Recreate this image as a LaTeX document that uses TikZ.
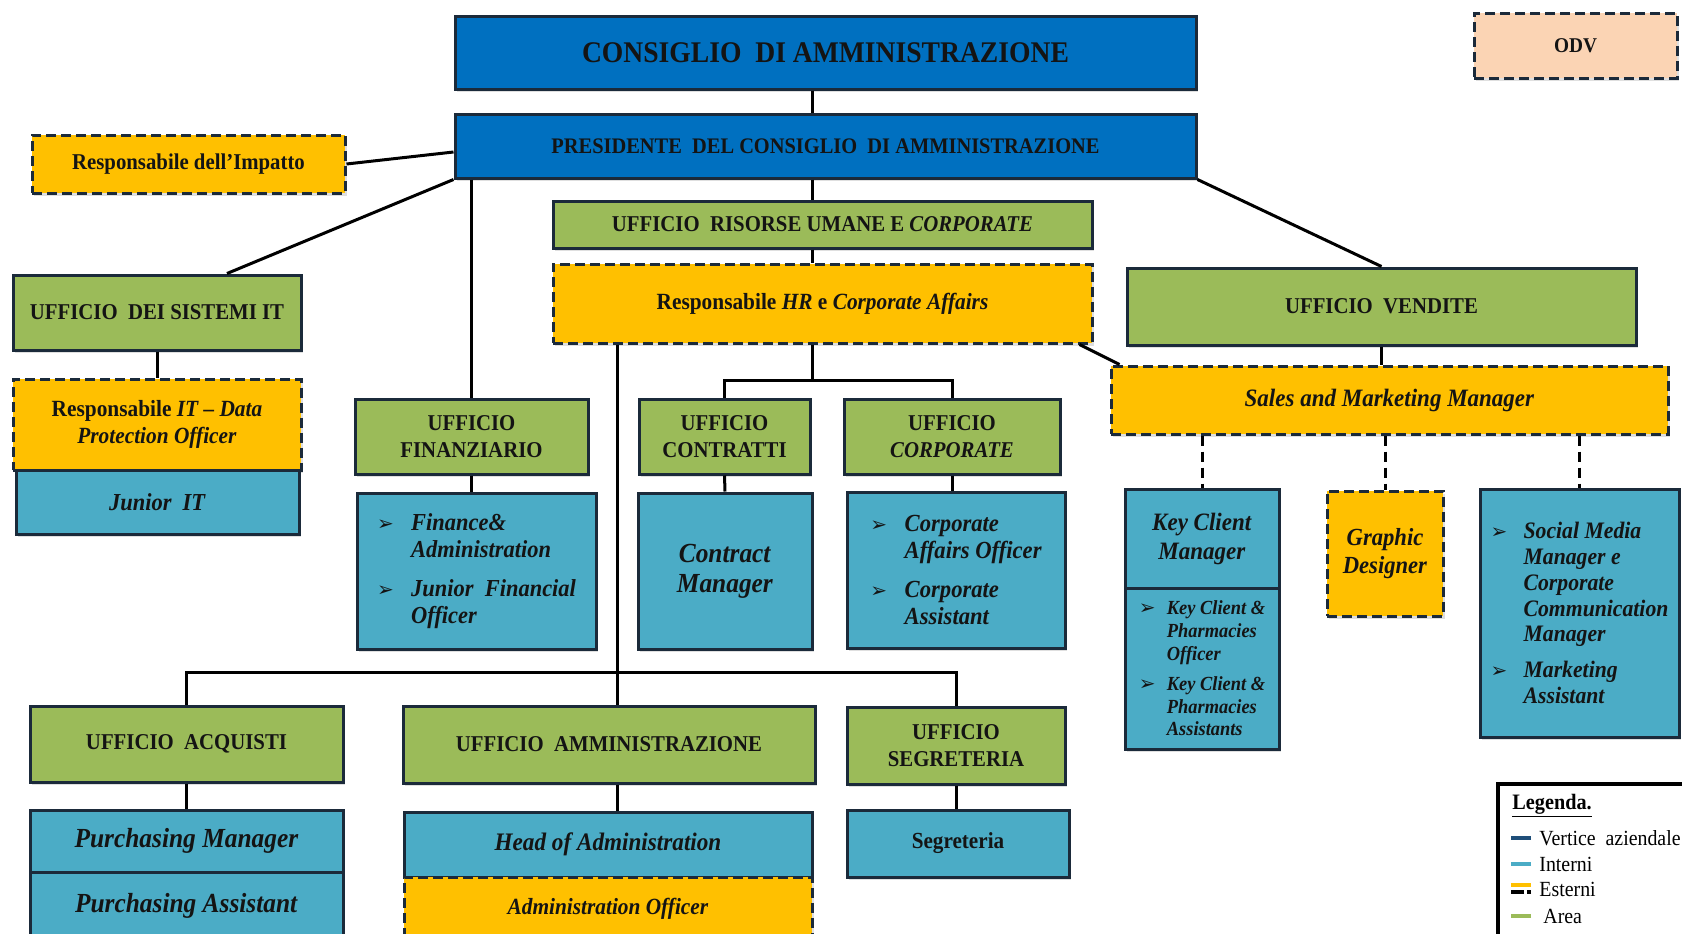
\documentclass[tikz,border=0pt]{standalone}
\usepackage{fontspec}
\setmainfont{Liberation Serif}[FakeStretch=0.92]
\newfontfamily\arrowfont{DejaVu Sans}
\usetikzlibrary{shadows}

\definecolor{topblue}{HTML}{0070C0}
\definecolor{areagreen}{HTML}{9BBB59}
\definecolor{intblue}{HTML}{4BACC6}
\definecolor{extgold}{HTML}{FFC000}
\definecolor{odvpeach}{HTML}{FBD4B4}
\definecolor{edge}{HTML}{1B2A3A}
\definecolor{ink}{HTML}{141414}
\definecolor{vertex}{HTML}{1F4E79}

\newcommand{\boxfont}[2]{\bfseries\fontsize{#1}{#2}\selectfont}
\newcommand{\arr}{\makebox[1.4em][l]{\normalfont\arrowfont\fontsize{10}{10}\selectfont ➢}}
\newcommand{\ind}{\hspace*{1.4em}}

\begin{document}
\begin{tikzpicture}[x=0.5pt,y=-0.5pt,
    box/.style={draw=edge,line width=1.5pt,align=center,inner sep=2pt,text=ink,
      font=\boxfont{11.3}{13.5},
      drop shadow={shadow xshift=1pt,shadow yshift=-1.5pt,opacity=0.25}},
    vertice/.style={box,fill=topblue},
    area/.style={box,fill=areagreen},
    interno/.style={box,fill=intblue},
    esterno/.style={box,fill=extgold,dash pattern=on 5pt off 2.5pt},
    organo/.style={box,fill=odvpeach,dash pattern=on 5pt off 2.5pt},
    link/.style={line width=1.5pt,draw=black},
    dlink/.style={link,dash pattern=on 5pt off 3pt}]
  \useasboundingbox[fill=white] (0,0) rectangle (1682,933);

  \node[vertice,minimum width=370.5pt,minimum height=36.5pt,font=\boxfont{15}{17}] (cda) at (825.5,52.5) {CONSIGLIO\ \ DI AMMINISTRAZIONE};
  \node[vertice,minimum width=370.5pt,minimum height=32pt,font=\boxfont{11.1}{13}] (pres) at (825.5,146) {PRESIDENTE\ \ DEL CONSIGLIO\ \ DI AMMINISTRAZIONE};
  \node[esterno,minimum width=156.5pt,minimum height=29pt] (impatto) at (188.5,164) {Responsabile dell’Impatto};
  \node[organo,minimum width=101.5pt,minimum height=32.5pt,font=\boxfont{10.5}{12}] (odv) at (1575.5,45.5) {ODV};
  \node[area,minimum width=269.5pt,minimum height=23.5pt] (risorse) at (822.5,224.5) {UFFICIO\ \ RISORSE UMANE E \textit{CORPORATE}};
  \node[esterno,minimum width=269.5pt,minimum height=39.5pt,font=\boxfont{11.6}{13.5}] (hr) at (822.5,303.5) {Responsabile \textit{HR} e \textit{Corporate Affairs}};

  % sistemi IT
  \node[area,minimum width=144pt,minimum height=37.5pt] (sistemi) at (157,312.5) {UFFICIO\ \ DEI SISTEMI IT};
  \node[esterno,minimum width=144pt,minimum height=45.5pt,font=\boxfont{11.6}{13.5}] (respit) at (157,424.5) {Responsabile \textit{IT – Data}\\\textit{Protection Officer}};
  \node[interno,minimum width=141.5pt,minimum height=32pt,font=\boxfont{12.2}{14}] (juniorit) at (157.5,502) {\textit{Junior\ \ IT}};

  % finanza, contratti, corporate
  \node[area,minimum width=116.5pt,minimum height=37.5pt] (finanz) at (471.5,436.5) {UFFICIO\\FINANZIARIO};
  \node[interno,minimum width=119.5pt,minimum height=78pt,align=left,font=\boxfont{12.2}{13.5}] (finbox) at (476.5,571)
    {\arr\textit{Finance\&}\\\ind\textit{Administration}\\[6pt]\arr\textit{Junior\ \ Financial}\\\ind\textit{Officer}};
  \node[area,minimum width=85.5pt,minimum height=37.5pt] (contratti) at (724.5,436.5) {UFFICIO\\CONTRATTI};
  \node[interno,minimum width=87pt,minimum height=78pt,font=\boxfont{13.8}{15}] (contract) at (725,571) {\textit{Contract}\\\textit{Manager}};
  \node[area,minimum width=108pt,minimum height=37.5pt] (corporate) at (952,436.5) {UFFICIO\\\textit{CORPORATE}};
  \node[interno,minimum width=109pt,minimum height=78pt,align=left,font=\boxfont{12.3}{13.5}] (corpbox) at (956,570)
    {\arr\textit{Corporate}\\\ind\textit{Affairs Officer}\\[6pt]\arr\textit{Corporate}\\\ind\textit{Assistant}};

  % vendite
  \node[area,minimum width=254.5pt,minimum height=38.5pt] (vendite) at (1381.5,306.5) {UFFICIO\ \ VENDITE};
  \node[esterno,minimum width=278.5pt,minimum height=34pt,font=\boxfont{12.5}{14}] (sales) at (1389.5,400) {\textit{Sales and Marketing Manager}};
  \node[interno,minimum width=77pt,minimum height=49.5pt,font=\boxfont{12.5}{14.5}] (keyclient) at (1202,538.5) {\textit{Key Client}\\\textit{Manager}};
  \node[interno,minimum width=77pt,minimum height=80.5pt,align=left,font=\boxfont{10}{11.3}] (keylist) at (1202,668.5)
    {\arr\textit{Key Client \&}\\\ind\textit{Pharmacies}\\\ind\textit{Officer}\\[4pt]\arr\textit{Key Client \&}\\\ind\textit{Pharmacies}\\\ind\textit{Assistants}};
  \node[esterno,minimum width=58pt,minimum height=62.5pt,font=\boxfont{12.3}{14}] (graphic) at (1385,553.5) {\textit{Graphic}\\\textit{Designer}};
  \node[interno,minimum width=99.5pt,minimum height=124pt,align=left,font=\boxfont{11.8}{12.9}] (social) at (1579.5,613)
    {\arr\textit{Social Media}\\\ind\textit{Manager e}\\\ind\textit{Corporate}\\\ind\textit{Communication}\\\ind\textit{Manager}\\[5pt]\arr\textit{Marketing}\\\ind\textit{Assistant}};

  % acquisti, amministrazione, segreteria
  \node[area,minimum width=156.5pt,minimum height=38pt] (acquisti) at (186.5,744) {UFFICIO\ \ ACQUISTI};
  \node[interno,minimum width=156.5pt,minimum height=31pt,font=\boxfont{13.8}{15}] (purchmgr) at (186.5,841) {\textit{Purchasing Manager}};
  \node[interno,minimum width=156.5pt,minimum height=34pt,font=\boxfont{13.8}{15}] (purchass) at (186.5,906) {\textit{Purchasing Assistant}};
  \node[area,minimum width=206pt,minimum height=38.5pt] (amministr) at (609,744.5) {UFFICIO\ \ AMMINISTRAZIONE};
  \node[interno,minimum width=204pt,minimum height=32.5pt,font=\boxfont{12.6}{14}] (head) at (608,844.5) {\textit{Head of Administration}};
  \node[esterno,minimum width=204pt,minimum height=31.5pt,font=\boxfont{11.6}{13}] (adminoff) at (608,908.5) {\textit{Administration Officer}};
  \node[area,minimum width=109pt,minimum height=38.5pt] (segruff) at (956,745.5) {UFFICIO\\SEGRETERIA};
  \node[interno,minimum width=111pt,minimum height=33.5pt,font=\boxfont{11.5}{13}] (segreteria) at (958,843.5) {Segreteria};

  \coordinate (spine) at (812,0);
  \coordinate (busA) at (812,380);
  \coordinate (busB) at (617,672);

  \draw[link] (cda.south -| spine) -- (pres.north -| spine);
  \draw[link] (pres.south -| spine) -- (risorse.north -| spine);
  \draw[link] (risorse.south -| spine) -- (hr.north -| spine);
  \draw[link] (hr.south -| spine) -- (busA);
  \draw[link] (contratti.north) |- (busA) -| (corporate.north);
  \draw[link] (hr.south -| busB) -- (amministr.north -| busB);
  \draw[link] (acquisti.north) |- (busB) -| (segruff.north);
  \draw[link] (impatto.east) -- ([yshift=-3pt]pres.west);
  \draw[link] (pres.south west) -- ([xshift=35pt]sistemi.north);
  \draw[link] (finanz.north |- pres.south) -- (finanz.north);
  \draw[link] (pres.south east) -- (vendite.north);
  \draw[link] ([xshift=-7pt]hr.south east) -- ([xshift=5pt]sales.north west);
  \draw[link] (vendite.south) -- (vendite.south |- sales.north);
  \draw[link] (sistemi.south) -- (respit.north);
  \draw[link] (finanz.south) -- (finanz.south |- finbox.north);
  \draw[link] (contratti.south) -- (contract.north);
  \draw[link] (corporate.south) -- (corporate.south |- corpbox.north);
  \draw[link] (acquisti.south) -- (purchmgr.north);
  \draw[link] (amministr.south -| busB) -- (head.north -| busB);
  \draw[link] (segruff.south) -- (segruff.south |- segreteria.north);
  \draw[dlink] (keyclient.north |- sales.south) -- (keyclient.north);
  \draw[dlink] (graphic.north |- sales.south) -- (graphic.north);
  \draw[dlink] (social.north |- sales.south) -- (social.north);

  % legenda
  \draw[line width=2pt] (1498,784) rectangle (1720,960);
  \node[anchor=west,inner sep=0pt,font=\bfseries\fontsize{11}{13}\selectfont] (leg) at (1512,806) {\underline{Legenda.}};
  \node[anchor=west,inner sep=0pt,font=\fontsize{10.8}{12}\selectfont] (legA) at (1539,838) {Vertice\ \ aziendale};
  \node[anchor=west,inner sep=0pt,font=\fontsize{10.8}{12}\selectfont] (legB) at (1539,864) {Interni};
  \node[anchor=west,inner sep=0pt,font=\fontsize{10.8}{12}\selectfont] (legC) at (1539,889) {Esterni};
  \node[anchor=west,inner sep=0pt,font=\fontsize{10.8}{12}\selectfont] (legD) at (1543,916) {Area};
  \draw[line width=1.6pt,vertex] ([xshift=-4pt]legA.west) -- ++(-20,0);
  \draw[line width=1.6pt,intblue] ([xshift=-4pt]legB.west) -- ++(-20,0);
  \draw[line width=1.6pt,extgold] ([xshift=-4pt,yshift=2pt]legC.west) -- ++(-20,0);
  \draw[line width=1.6pt,black,dash pattern=on 2pt off 1.5pt on 8pt off 1pt] ([xshift=-4pt,yshift=-1.5pt]legC.west) -- ++(-20,0);
  \draw[line width=1.6pt,areagreen] ([xshift=-6pt]legD.west) -- ++(-20,0);
\end{tikzpicture}
\end{document}
